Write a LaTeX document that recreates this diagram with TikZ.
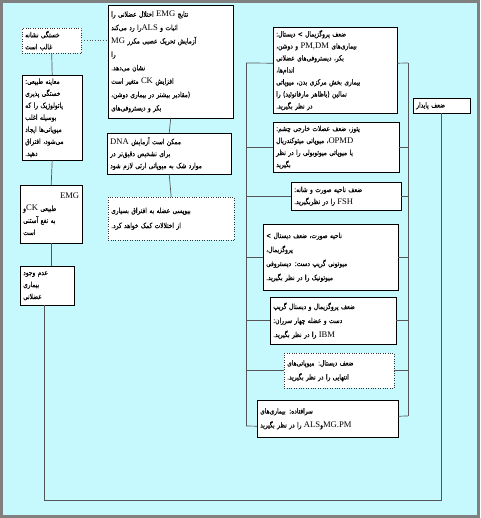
\documentclass[tikz,border=0pt]{standalone}
\usepackage{fontspec}
\usepackage{xcolor}
\usepackage{tikz}
\usetikzlibrary{calc}
\TeXXeTstate=1
\newfontfamily\fa[Script=Arabic,FakeStretch=0.8,FakeBold=0.35]{DejaVu Sans}
\newfontfamily\lat{Liberation Serif}
\newcommand{\rl}[1]{\beginR #1\endR}
\newcommand{\lt}[1]{{\lat\fontsize{8.6}{12}\selectfont\beginL #1\endL}}
\definecolor{bgcyan}{HTML}{C6F9FD}
\definecolor{wire}{HTML}{555555}

\begin{document}
\begin{tikzpicture}[x=1pt, y=-1pt,
  bx/.style={rectangle, draw, fill=white, anchor=north west, align=left,
             inner xsep=3pt, inner ysep=2pt, font=\fa\fontsize{7.3}{12}\selectfont},
  dbx/.style={bx, draw=black!80, dotted},
  w/.style={draw=wire, line width=0.7pt}]
  \useasboundingbox (0,0) rectangle (480,518);
  \fill[bgcyan] (0,0) rectangle (480,518);
  \draw[gray, line width=2.4pt] (1.6,1.6) rectangle (478.4,516.4);

  % left column
  \node[dbx, text width=53pt, minimum height=25pt] (fat) at (22,28)
    {\rl{خستگی نشانه}\\ \rl{غالب است}};
  \node[bx, text width=54pt, minimum height=85pt] (exam) at (22,75)
    {\rl{معاینه طبیعی:}\\ \rl{خستگی پذیری}\\ \rl{پاتولوژیک را که}\\
     \rl{بوسیله اغلب}\\ \rl{میوپاتی‌ها ایجاد}\\ \rl{می‌شود، افتراق}\\ \rl{دهید.}};
  \node[bx, text width=56pt, minimum height=58pt] (emgck) at (20,185)
    {\hskip0pt plus 1fill\rl{\lt{EMG}}\\ \rl{طبیعی \lt{CK}و}\\ \rl{به نفع آستنی}\\ \rl{است}};
  \node[bx, text width=48pt, minimum height=39pt] (nodis) at (20,266)
    {\rl{عدم وجود}\\ \rl{بیماری}\\ \rl{عضلانی}};

  % middle column
  \node[bx, text width=119pt, minimum height=113pt,
        font=\fa\fontsize{7.3}{13.4}\selectfont] (emg) at (108,5)
    {\rl{نتایج \lt{EMG} اختلال عضلانی را}\\
     \rl{اثبات و \lt{ALS}را رد می‌کند}\\
     \rl{آزمایش تحریک عصبی مکرر \lt{MG}}\\
     \rl{را}\\
     \rl{نشان می‌دهد.}\\
     \rl{افزایش \lt{CK} متغیر است}\\
     \rl{(مقادیر بیشتر در بیماری دوشن،}\\
     \rl{بکر و دیستروفی‌های}};
  \node[bx, text width=118pt, minimum height=41pt] (dna) at (107,133)
    {\rl{ممکن است آزمایش \lt{DNA}}\\ \rl{برای تشخیص دقیق‌تر در}\\
     \rl{موارد شک به میوپاتی ارثی لازم شود}};
  \node[dbx, text width=120pt, minimum height=43pt] (bio) at (108,197)
    {\rl{بیوپسی عضله به افتراق بسیاری}\\[3pt] \rl{از اختلالات کمک خواهد کرد.}};

  % right column
  \node[bx, text width=118pt, minimum height=86pt] (r1) at (273,27)
    {\rl{ضعف پروگزیمال > دیستال:}\\
     \rl{بیماری‌های \lt{PM,DM} و دوشن،}\\
     \rl{بکر، دیستروفی‌های عضلانی}\\
     \rl{اندام‌ها،}\\
     \rl{بیماری بخش مرکزی بدن، میوپاتی}\\
     \rl{نمالین (باظاهر مارفانوئید) را}\\
     \rl{در نظر بگیرید.}};
  \node[bx, text width=120pt, minimum height=50pt] (r2) at (273,122)
    {\rl{پتوز، ضعف عضلات خارجی چشم:}\\
     \rl{\lt{OPMD}، میوپاتی میتوکندریال}\\
     \rl{یا میوپاتی میوتوبولی را در نظر}\\
     \rl{بگیرید}};
  \node[bx, text width=104pt, minimum height=28pt] (r3) at (291,182)
    {\rl{ضعف ناحیه صورت و شانه:}\\ \rl{\lt{FSH} را در نظربگیرید.}};
  \node[bx, text width=129pt, minimum height=66pt,
        font=\fa\fontsize{7.3}{14}\selectfont] (r4) at (263,224)
    {\rl{ناحیه صورت، ضعف دیستال >}\\ \rl{پروگزیمال،}\\
     \rl{میوتونی گریپ دست: دیستروفی}\\ \rl{میوتونیک را در نظر بگیرید.}};
  \node[bx, text width=120pt, minimum height=47pt,
        font=\fa\fontsize{7.3}{14}\selectfont] (r5) at (270,297)
    {\rl{ضعف پروگزیمال و دیستال گریپ}\\ \rl{دست و عضله چهار سرران:}\\
     \rl{\lt{IBM} را در نظر بگیرید.}};
  \node[dbx, text width=104pt, minimum height=35pt,
        font=\fa\fontsize{7.3}{14}\selectfont] (r6) at (284,353)
    {\rl{ضعف دیستال: میوپاتی‌های}\\ \rl{انتهایی را در نظر بگیرید.}};
  \node[bx, text width=135pt, minimum height=37pt,
        font=\fa\fontsize{7.3}{14}\selectfont] (r7) at (257,400)
    {\rl{سرافتاده: بیماری‌های}\\ \rl{\lt{MG.PM}و\lt{ALS} را در نظر بگیرید}};
  \node[bx, text width=51pt, minimum height=15pt, inner ysep=1pt] (pers) at (413,98)
    {\rl{ضعف پایدار}};

  % spines of the right column
  \coordinate (ltop) at (246,63);
  \coordinate (lbot) at (246,426);
  \coordinate (rtop) at (408,63);
  \coordinate (rbot) at (408,416);
  \coordinate (loopb) at (0,500);
  \draw[w] (ltop) -- (lbot);
  \draw[w] (rtop) -- (rbot);
  \draw[w] ([yshift=7pt]r1.west) -- (ltop);
  \draw[w] ([yshift=7pt]r1.east) -- (rtop);
  \foreach \b in {r2,r3,r4,r5,r6} {
    \draw[w] (\b.west) -- (\b.west -| ltop);
    \draw[w] (\b.east) -- (\b.east -| rtop);
  }
  \draw[w] ([yshift=-7.5pt]r7.west) -- (lbot);
  \draw[w] ([yshift=2.5pt]r7.east) -- (rbot);

  % left and middle chains
  \draw[w, dotted] (fat.east) -- (fat.east -| emg.west);
  \draw[w] (fat.south) -- (exam.north);
  \draw[w] (exam.south) -- (emgck.north);
  \draw[w] (emgck.south) -- (emgck.south |- nodis.north);
  \draw[w] (emg.south) -- (dna.north);
  \draw[w] (dna.south) -- (bio.north);
  \draw[w] ([xshift=-3pt]nodis.south) -- ([xshift=-3pt]nodis.south |- loopb) -| (pers.south);
\end{tikzpicture}
\end{document}
